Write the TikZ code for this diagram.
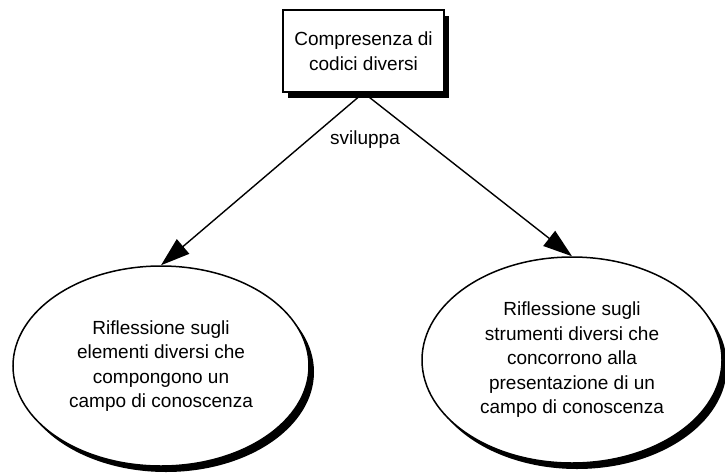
\documentclass[tikz,border=0pt]{standalone}
\usepackage{fontspec}
\setmainfont{Liberation Sans}
\usetikzlibrary{positioning, calc, shapes.geometric, shadows, arrows.meta}

\begin{document}
\begin{tikzpicture}[x=1pt, y=-1pt,
    every node/.style={font=\fontsize{19}{24.5}\selectfont, align=center},
    concept/.style={draw, line width=1.5pt, fill=white, inner sep=0pt,
        drop shadow={shadow xshift=5pt, shadow yshift=-6pt, fill=black, opacity=1}},
    link/.style={line width=1.4pt, -{Triangle[length=29pt, width=19pt]}}]
    \useasboundingbox (0,0) rectangle (725,474);
    \node[concept, rectangle, minimum width=161pt, minimum height=82pt] (codici) at (363.5,51) {Compresenza di\\codici diversi};
    \node[concept, ellipse, minimum width=296pt, minimum height=200pt] (elementi) at (161,366) {Riflessione sugli\\elementi diversi che\\compongono un\\campo di conoscenza};
    \node[concept, ellipse, minimum width=300pt, minimum height=206pt] (strumenti) at (572,360) {Riflessione sugli\\strumenti diversi che\\concorrono alla\\presentazione di un\\campo di conoscenza};
    \node (sviluppa) at (365,140) {sviluppa};
    \draw[link] (codici.south) -- (elementi.north);
    \draw[link] (codici.south) -- (strumenti.north);
\end{tikzpicture}
\end{document}
